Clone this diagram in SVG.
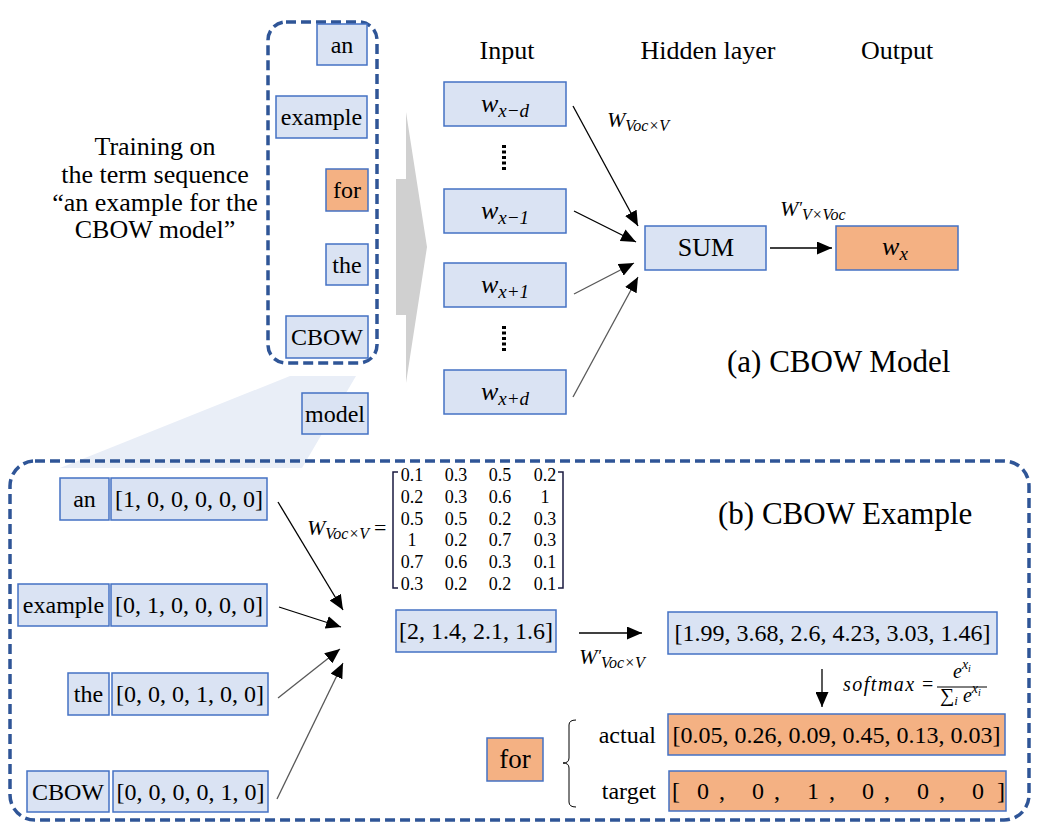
<svg xmlns="http://www.w3.org/2000/svg" width="1039" height="835" viewBox="0 0 1039 835">
<defs>
<style>
text{font-family:"Liberation Serif",Tinos,"Times New Roman","DejaVu Serif",serif;fill:#000}
.m{font-style:italic}
.n{font-size:18px;text-anchor:middle}
.b{fill:#DAE3F3;stroke:#4472C4;stroke-width:1.5}
.o{fill:#F4B183;stroke:#4472C4;stroke-width:1.5}
.dash{fill:none;stroke:#2F5597;stroke-width:3.5;stroke-dasharray:10 5}
.ar{stroke:#000;stroke-width:1.3;fill:none;marker-end:url(#ah)}
.ag{stroke:#585858;stroke-width:1.3;fill:none;marker-end:url(#ah)}
.w{font-size:24px;text-anchor:middle}
.br{fill:none;stroke:#1a1a40;stroke-width:1.5}
</style>
<marker id="ah" markerUnits="userSpaceOnUse" markerWidth="15" markerHeight="13" viewBox="0 0 15 13" refX="15" refY="6.5" orient="auto"><path d="M0,0 L15,6.5 L0,13 z" fill="#000"/></marker>
</defs>
<rect width="1039" height="835" fill="#fff"/>

<!-- decorative shapes -->
<polygon points="290,376 356,376 302,468 60,468" fill="#E9EEF7"/>
<polygon points="406,112 427,247 406,383 406,315 396,315 396,179 406,179" fill="#D0D0D0"/>
<rect class="dash" x="268" y="22" width="109" height="341" rx="18"/>
<rect class="dash" x="10" y="461" width="1019" height="359" rx="25"/>

<!-- training text -->
<g id="training-text" font-size="26" text-anchor="middle">
<text x="155" y="155">Training on</text>
<text x="155" y="183">the term sequence</text>
<text x="155" y="211">“an example for the</text>
<text x="155" y="238">CBOW model”</text>
</g>

<!-- sequence words -->
<g id="seq-an"><rect class="b" x="317" y="24" width="50" height="41"/><text class="w" x="342" y="53">an</text></g>
<g id="seq-example"><rect class="b" x="276" y="96" width="91" height="42"/><text class="w" x="321.5" y="125">example</text></g>
<g id="seq-for"><rect class="o" x="326" y="169" width="42" height="42"/><text class="w" x="347" y="198">for</text></g>
<g id="seq-the"><rect class="b" x="326" y="244" width="42" height="41"/><text class="w" x="347" y="272.5">the</text></g>
<g id="seq-cbow"><rect class="b" x="286" y="316" width="82" height="42"/><text class="w" x="327" y="345">CBOW</text></g>
<g id="seq-model"><rect class="b" x="302" y="393" width="66" height="41"/><text class="w" x="335" y="421.5">model</text></g>

<!-- headers -->
<g id="headers" font-size="26" text-anchor="middle">
<text x="507" y="59">Input</text>
<text x="708" y="59">Hidden layer</text>
<text x="897" y="59">Output</text>
</g>

<!-- input nodes -->
<g id="in-xmd"><rect class="b" x="444" y="82" width="122" height="44"/><text class="m" x="505" y="112" font-size="26" text-anchor="middle">w<tspan font-size="19" dy="5">x−d</tspan></text></g>
<g id="in-xm1"><rect class="b" x="444" y="189" width="122" height="44"/><text class="m" x="505" y="219" font-size="26" text-anchor="middle">w<tspan font-size="19" dy="5">x−1</tspan></text></g>
<g id="in-xp1"><rect class="b" x="444" y="263" width="122" height="44"/><text class="m" x="505" y="293" font-size="26" text-anchor="middle">w<tspan font-size="19" dy="5">x+1</tspan></text></g>
<g id="in-xpd"><rect class="b" x="444" y="370" width="122" height="44"/><text class="m" x="505" y="400" font-size="26" text-anchor="middle">w<tspan font-size="19" dy="5">x+d</tspan></text></g>
<g id="dots" stroke="#000" stroke-width="4" stroke-dasharray="3 2.5">
<line x1="504" y1="145" x2="504" y2="172"/>
<line x1="504" y1="326" x2="504" y2="353"/>
</g>

<!-- hidden / output -->
<g id="sum"><rect class="b" x="645" y="226" width="121" height="44"/><text x="706" y="256" font-size="26" text-anchor="middle">SUM</text></g>
<g id="out-wx"><rect class="o" x="836" y="226" width="122" height="44"/><text class="m" x="895" y="255" font-size="26" text-anchor="middle">w<tspan font-size="19" dy="5">x</tspan></text></g>

<!-- connectors -->
<g id="connectors">
<line class="ar" x1="573" y1="106" x2="638" y2="226"/>
<line class="ar" x1="574" y1="211" x2="636" y2="242"/>
<line class="ag" x1="574" y1="294" x2="634" y2="263"/>
<line class="ag" x1="573" y1="397" x2="638" y2="277"/>
<line class="ar" x1="770" y1="248" x2="832" y2="248"/>
<line class="ar" x1="278" y1="502" x2="343" y2="610"/>
<line class="ar" x1="279" y1="607" x2="341" y2="627"/>
<line class="ag" x1="278" y1="698" x2="340" y2="649"/>
<line class="ag" x1="277" y1="799" x2="343" y2="663"/>
<line class="ar" x1="579" y1="633" x2="642" y2="633"/>
<line class="ar" x1="822" y1="669" x2="822" y2="707"/>
</g>

<!-- weight labels -->
<text class="m" x="607" y="127" font-size="22">W<tspan font-size="16" dy="4">Voc×V</tspan></text>
<text class="m" x="780" y="216" font-size="22">W<tspan font-size="17" dy="-3">′</tspan><tspan font-size="16" dy="7">V×Voc</tspan></text>
<text x="727" y="372" font-size="31">(a) CBOW Model</text>

<!-- bottom example -->
<text x="718" y="524" font-size="31">(b) CBOW Example</text>

<g id="ex-an"><rect class="b" x="60" y="478" width="49" height="42"/><text class="w" x="84.5" y="507">an</text><rect class="b" x="111" y="478" width="156" height="42"/><text class="w" x="189" y="507">[1, 0, 0, 0, 0, 0]</text></g>
<g id="ex-example"><rect class="b" x="18" y="584" width="91" height="42"/><text class="w" x="63.5" y="613">example</text><rect class="b" x="111" y="584" width="156" height="42"/><text class="w" x="189" y="613">[0, 1, 0, 0, 0, 0]</text></g>
<g id="ex-the"><rect class="b" x="68" y="673" width="41" height="42"/><text class="w" x="88.5" y="702">the</text><rect class="b" x="112" y="673" width="156" height="42"/><text class="w" x="190" y="702">[0, 0, 0, 1, 0, 0]</text></g>
<g id="ex-cbow"><rect class="b" x="27" y="771" width="82" height="41"/><text class="w" x="68" y="800">CBOW</text><rect class="b" x="113" y="771" width="155" height="41"/><text class="w" x="190.5" y="800">[0, 0, 0, 0, 1, 0]</text></g>

<!-- matrix -->
<g id="matrix">
<text class="m" x="307" y="535" font-size="22">W<tspan font-size="16" dy="4">Voc×V</tspan></text>
<text x="374" y="535" font-size="22">=</text>
<path class="br" d="M398,472 H393 V588 H398"/>
<path class="br" d="M558,472 H563 V588 H558"/>
<g class="n">
<text x="412" y="481">0.1</text><text x="456" y="481">0.3</text><text x="500" y="481">0.5</text><text x="545" y="481">0.2</text>
<text x="412" y="503">0.2</text><text x="456" y="503">0.3</text><text x="500" y="503">0.6</text><text x="545" y="503">1</text>
<text x="412" y="525">0.5</text><text x="456" y="525">0.5</text><text x="500" y="525">0.2</text><text x="545" y="525">0.3</text>
<text x="412" y="546">1</text><text x="456" y="546">0.2</text><text x="500" y="546">0.7</text><text x="545" y="546">0.3</text>
<text x="412" y="568">0.7</text><text x="456" y="568">0.6</text><text x="500" y="568">0.3</text><text x="545" y="568">0.1</text>
<text x="412" y="590">0.3</text><text x="456" y="590">0.2</text><text x="500" y="590">0.2</text><text x="545" y="590">0.1</text>
</g>
</g>

<g id="hidden-vec"><rect class="b" x="396" y="610" width="160" height="42"/><text class="w" x="476" y="639">[2, 1.4, 2.1, 1.6]</text></g>
<text class="m" x="579" y="664" font-size="22">W<tspan font-size="17" dy="-3">′</tspan><tspan font-size="16" dy="7">Voc×V</tspan></text>
<g id="score-vec"><rect class="b" x="668" y="612" width="329" height="42"/><text class="w" x="832.5" y="641">[1.99, 3.68, 2.6, 4.23, 3.03, 1.46]</text></g>

<g id="softmax">
<text class="m" x="843" y="691" font-size="20" letter-spacing="1.5">softmax</text>
<text x="922" y="691" font-size="20">=</text>
<line x1="937" y1="687" x2="987" y2="687" stroke="#000" stroke-width="1"/>
<text class="m" x="953" y="678" font-size="20">e<tspan font-size="14" dy="-9">x</tspan><tspan font-size="10" dy="3">i</tspan></text>
<text class="m" x="940" y="702" font-size="20"><tspan font-style="normal">∑</tspan><tspan font-size="13" dy="3">i</tspan><tspan dy="-3"> e</tspan><tspan font-size="14" dy="-9">x</tspan><tspan font-size="10" dy="3">i</tspan></text>
</g>

<g id="actual"><text x="656" y="743" font-size="24" text-anchor="end">actual</text><rect class="o" x="668" y="714" width="337" height="41"/><text class="w" x="836.5" y="743">[0.05, 0.26, 0.09, 0.45, 0.13, 0.03]</text></g>
<g id="target"><text x="656" y="799" font-size="24" text-anchor="end">target</text><rect class="o" x="669" y="771" width="337" height="40"/>
<text y="799" font-size="24" text-anchor="middle"><tspan x="676">[</tspan><tspan x="703">0</tspan><tspan x="722">,</tspan><tspan x="758">0</tspan><tspan x="777">,</tspan><tspan x="813">1</tspan><tspan x="832">,</tspan><tspan x="868">0</tspan><tspan x="887">,</tspan><tspan x="923">0</tspan><tspan x="942">,</tspan><tspan x="978">0</tspan><tspan x="1001">]</tspan></text></g>
<path d="M576,720 Q569,720 569,725 V758 Q569,763 563,763 Q569,763 569,768 V802 Q569,807 576,807" fill="none" stroke="#000" stroke-width="1"/>
<g id="ex-for"><rect class="o" x="487" y="738" width="56" height="43"/><text x="515" y="768" font-size="27" text-anchor="middle">for</text></g>
</svg>
